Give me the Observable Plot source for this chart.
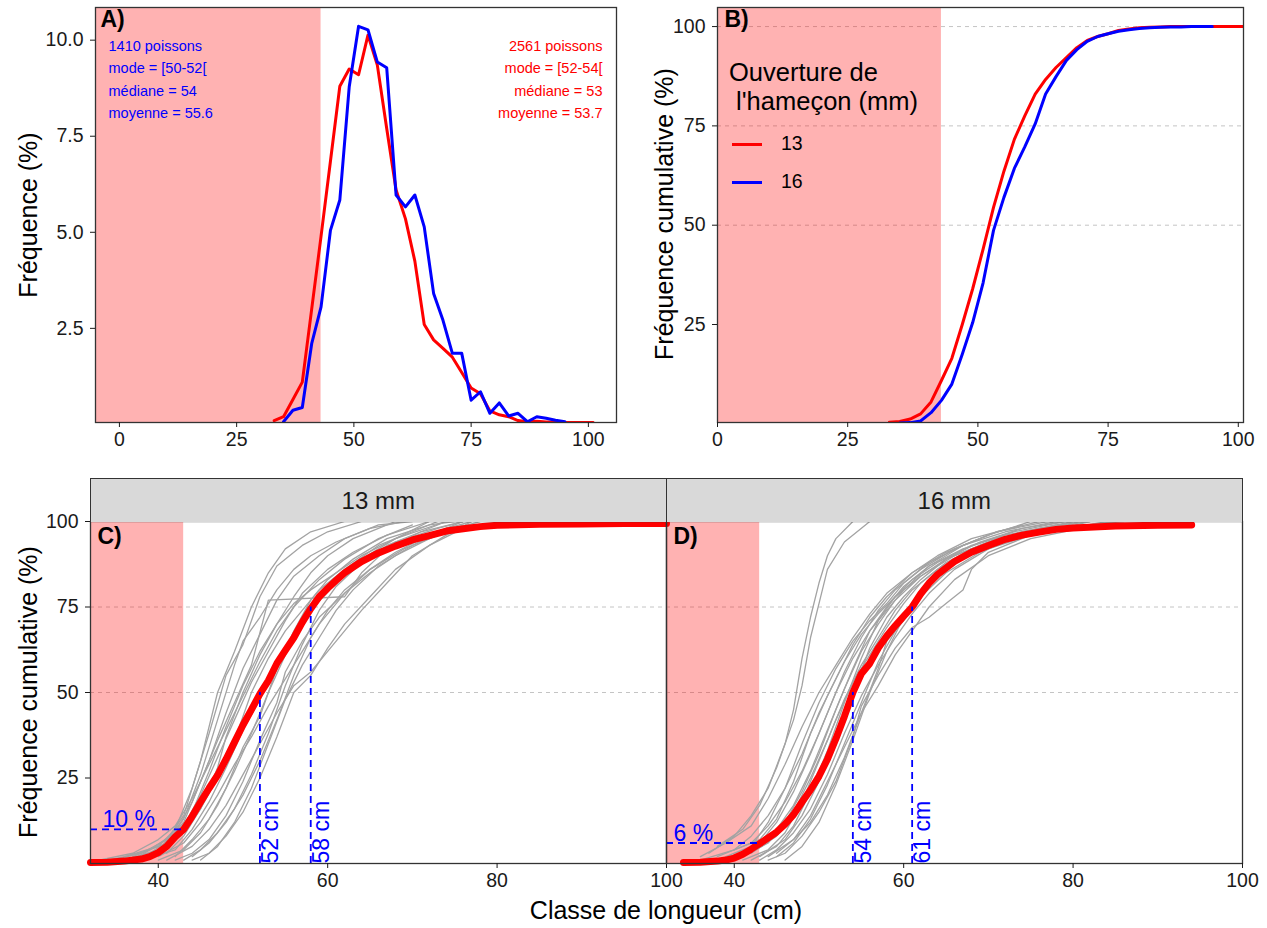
<!DOCTYPE html>
<html><head><meta charset="utf-8">
<script src="https://cdn.jsdelivr.net/npm/d3@7"></script>
<script src="https://cdn.jsdelivr.net/npm/@observablehq/plot@0.6"></script>
<style>
body{margin:0;background:#fff;font-family:"Liberation Sans",Arial,sans-serif;}
#root{position:relative;width:1267px;height:928px;overflow:hidden;background:#fff;}
.t{position:absolute;white-space:pre;line-height:1;color:#000;}
.strip{position:absolute;background:#d9d9d9;border:1.3px solid #333;border-bottom:none;box-sizing:border-box;font-size:24px;display:flex;align-items:center;justify-content:center;color:#1a1a1a;}
.key{position:absolute;height:3px;}
</style></head><body><div id="root"></div>
<script>
// ---------- DATA ----------
// Panel A : fréquence (%) par classe de 2 cm (centre de classe)
const classes13A = [33,35,37,39,41,43,45,47,49,51,53,55,57,59,61,63,65,67,69,71,73,75,77,79,81,83,85,87,89,91,93,95,97,99,101];
const freq13A = [0.1,0.2,0.65,1.1,3.0,4.9,6.85,8.8,9.25,9.1,10.13,9.35,7.7,6.1,5.35,4.25,2.6,2.2,1.98,1.75,1.35,0.95,0.8,0.35,0.25,0.2,0.1,0.07,0.08,0.06,0.06,0.05,0.05,0.05,0.05];
const classes16A = [35,37,39,41,43,45,47,49,51,53,55,57,59,61,63,65,67,69,71,73,75,77,79,81,83,85,87,89,91,93,95];
const freq16A = [0.07,0.37,0.44,2.1,3.06,5.05,5.84,8.78,10.36,10.27,9.43,9.28,5.97,5.66,5.97,5.14,3.41,2.71,1.85,1.85,0.63,0.85,0.29,0.56,0.22,0.29,0.07,0.2,0.16,0.11,0.07];
const statsBleu = ["1410 poissons","mode = [50-52[","médiane = 54","moyenne = 55.6"];
const statsRouge = ["2561 poissons","mode = [52-54[","médiane = 53","moyenne = 53.7"];

// Panel B : fréquence cumulée (%)
const cum13B = [0.4,0.6,1.2,2.5,5.5,10.9,16.5,25,34,44,54.5,63.6,71.6,77.5,83,86.7,89.7,92.2,94.7,96.5,97.5,98.2,99,99.4,99.7,99.8,99.9,100,100,100,100,100,100,100,100];
const cum16B = [0.2,0.3,0.7,2.8,5.9,10,17.5,25.5,35.5,48.7,57,64.3,69.7,75.5,83,87.4,91.5,94.2,96.3,97.5,98.2,98.8,99.2,99.5,99.7,99.8,99.9,99.9,100,100,100];

// Panels C et D : courbe moyenne
const moyC_x = [32,34,36,38,39,40,41,42,43,44,45,46,47,48,49,50,51,52,53,54,55,56,57,58,59,60,61,62,64,66,68,70,72,74,76,78,80,85,90,95,100];
const moyC_y = [0.3,0.4,0.7,1.3,2.0,3.2,5,7.8,10,13.8,18,22,25.8,30.5,35.5,40.5,45,49.6,53.5,58.5,62.3,66,70.5,74.5,78,80.5,82.8,85,88.3,90.8,92.8,94.6,95.9,97.2,97.9,98.5,98.9,99.2,99.3,99.4,99.4];
const moyD_x = [34,36,38,39,40,41,42,43,44,45,46,47,48,49,50,51,52,53,54,55,56,57,58,59,60,61,62,63,64,66,68,70,72,74,76,78,80,85,90,94];
const moyD_y = [0.3,0.4,0.7,1.0,1.6,2.7,4.2,5.8,7.5,9.2,11.5,14.3,18,21.5,25.5,30.5,36.5,43,50,55.5,58.5,63,66.5,69.5,72.3,75,78.8,82,84.5,88.3,91,93,94.8,96,96.9,97.7,98.1,98.7,98.9,99.0];

// Courbes individuelles (gris)
const grisC = [
 [[34,1],[38,3],[41,7],[43,14],[45,30],[47,50],[49,62],[51,75],[53,85],[55,92],[58,97],[62,100]],
 [[36,2],[40,5],[42,10],[44,22],[46,38],[48,55],[50,64],[52,78],[54,87],[57,93],[60,97],[64,100]],
 [[35,1],[39,4],[42,9],[44,18],[46,30],[48,44],[50,57],[52,67],[54,77],[56,84],[59,90],[62,95],[66,99],[70,100]],
 [[37,2],[41,6],[43,11],[45,20],[47,31],[49,42],[51,53],[53,62],[55,71],[57,79],[60,86],[63,91],[67,96],[72,100]],
 [[38,1],[42,4],[44,10],[46,18],[48,28],[50,39],[52,48],[54,58],[56,66],[58,74],[61,82],[64,89],[68,95],[74,100]],
 [[40,2],[43,6],[45,12],[47,20],[49,29],[51,37],[53,46],[55,54],[57,62],[59,70],[62,79],[65,86],[69,92],[75,98],[78,100]],
 [[41,1],[44,5],[46,10],[48,17],[50,26],[52,35],[54,44],[56,52],[58,56],[60,62],[62,68],[64,74],[67,82],[70,90],[74,96],[77,100]],
 [[43,1],[45,4],[47,9],[49,16],[51,26],[53,38],[55,52],[57,64],[59,74],[61,81],[64,88],[68,94],[73,98],[76,100]],
 [[42,2],[44,7],[46,13],[48,22],[50,34],[52,43],[54,57],[56,68],[58,77],[60,83],[63,89],[67,95],[72,99],[75,100]],
 [[39,3],[42,8],[44,15],[46,27],[48,40],[50,52],[52,62],[54,70],[56,76],[58,80],[61,85],[64,90],[68,95],[72,100]],
 [[36,1],[40,4],[43,12],[45,24],[47,36],[49,47],[51,58],[53,77],[62,78],[64,85],[67,92],[71,97],[74,100]],
 [[44,2],[46,6],[48,12],[50,20],[52,30],[54,42],[56,55],[58,66],[60,74],[62,80],[65,86],[68,91],[72,96],[76,100]],
 [[37,1],[41,7],[43,13],[45,26],[47,42],[49,58],[50,65],[52,72],[54,80],[56,86],[58,90],[61,94],[65,98],[69,100]],
 [[40,1],[43,4],[45,9],[47,17],[49,27],[51,38],[53,50],[55,61],[57,70],[59,77],[61,83],[64,88],[67,93],[71,97],[76,100]],
 [[45,1],[47,5],[49,12],[51,22],[53,35],[55,48],[57,58],[59,66],[61,74],[63,80],[66,87],[70,93],[74,98],[77,100]],
 [[38,2],[41,5],[43,9],[45,16],[47,25],[49,36],[51,50],[53,60],[55,68],[57,74],[59,80],[62,86],[66,93],[70,97],[73,100]],
 [[42,1],[44,3],[46,7],[48,14],[50,24],[52,36],[54,47],[55,56],[57,65],[59,72],[62,79],[65,85],[68,90],[72,95],[76,99]],
 [[33,1],[37,3],[40,7],[42,11],[44,19],[46,29],[48,39],[50,49],[52,59],[54,68],[56,75],[59,83],[62,89],[66,95],[70,99]],
 [[41,3],[43,8],[45,16],[47,28],[48,37],[50,50],[52,61],[54,70],[56,78],[58,85],[60,90],[63,95],[66,98],[68,100]],
 [[44,1],[46,3],[48,8],[50,15],[52,25],[54,37],[56,50],[58,55],[60,63],[62,70],[65,78],[68,86],[72,93],[76,98]]
];
const grisD = [
 [[37,3],[40,8],[42,14],[44,22],[46,35],[47,45],[48,60],[49,72],[50,82],[51,90],[52,95],[54,100]],
 [[38,5],[41,10],[43,17],[45,28],[47,42],[48,52],[49,66],[50,76],[51,86],[53,94],[56,100]],
 [[36,1],[40,4],[42,8],[44,14],[46,22],[48,32],[50,44],[52,54],[54,64],[56,72],[58,78],[61,85],[64,90],[68,95],[74,99]],
 [[38,2],[42,6],[44,11],[46,18],[48,27],[50,38],[52,50],[54,60],[56,68],[58,74],[60,80],[63,87],[67,93],[72,97],[78,100]],
 [[40,1],[43,5],[45,10],[47,17],[49,27],[51,39],[53,51],[55,62],[57,70],[59,77],[62,84],[65,89],[70,94],[76,98],[82,100]],
 [[41,2],[44,6],[46,12],[48,21],[50,32],[52,45],[54,57],[56,68],[58,75],[60,81],[63,87],[67,92],[72,96],[80,100]],
 [[43,1],[45,4],[47,9],[49,16],[51,26],[53,38],[55,49],[57,58],[59,66],[61,73],[63,79],[66,86],[70,92],[75,96],[84,100]],
 [[44,1],[46,3],[48,8],[50,15],[52,24],[54,37],[55,46],[57,55],[59,63],[61,69],[63,72],[65,76],[67,80],[68,86],[70,91],[75,96],[82,100]],
 [[39,2],[42,5],[44,12],[46,22],[48,35],[50,47],[52,57],[54,65],[56,71],[58,76],[60,82],[63,88],[67,93],[71,97],[76,100]],
 [[42,3],[45,8],[47,15],[49,25],[51,36],[53,48],[55,58],[57,66],[59,74],[61,80],[64,86],[68,92],[73,96],[80,99]],
 [[45,2],[47,6],[49,13],[51,23],[53,35],[55,47],[57,59],[59,68],[61,76],[63,82],[66,88],[70,93],[76,97],[85,100]],
 [[40,4],[43,7],[45,13],[47,24],[49,38],[51,49],[53,59],[55,67],[57,73],[59,78],[62,84],[66,90],[71,95],[78,99]],
 [[36,2],[39,6],[42,11],[44,19],[46,29],[48,40],[50,50],[52,58],[54,66],[56,73],[58,79],[61,85],[65,91],[70,96],[75,100]],
 [[43,2],[46,7],[48,14],[50,24],[52,36],[54,50],[56,63],[58,72],[60,78],[62,83],[65,89],[69,94],[74,98],[79,100]],
 [[41,1],[44,4],[46,9],[48,18],[50,30],[52,42],[54,53],[56,61],[58,69],[60,76],[62,82],[65,88],[69,93],[74,97],[81,100]],
 [[44,2],[47,7],[49,14],[51,24],[53,34],[55,44],[57,52],[59,61],[61,68],[63,75],[66,83],[70,90],[75,95],[83,99]],
 [[38,1],[41,3],[43,6],[45,12],[47,21],[49,32],[51,44],[53,56],[55,66],[57,74],[59,80],[62,86],[66,92],[71,97],[77,100]],
 [[42,1],[45,5],[47,11],[49,21],[51,33],[53,47],[55,60],[57,71],[59,78],[61,83],[64,88],[68,93],[73,97],[79,100]],
 [[46,1],[48,5],[50,12],[52,23],[54,36],[56,50],[58,62],[60,72],[62,79],[64,85],[67,90],[71,95],[77,98],[86,100]],
 [[45,3],[47,7],[49,12],[51,20],[53,31],[55,44],[57,57],[58,65],[60,71],[62,78],[65,85],[69,91],[74,96],[80,100]]
];

// Annotations C / D
const limiteTaille = 43;
const seuilC = [{pct:10}];
const quantC = [{cm:52, pct:50},{cm:58, pct:75}];
const seuilD = [{pct:6}];
const quantD = [{cm:54, pct:50},{cm:61, pct:75}];

const ticksA_x = [0,25,50,75,100], ticksA_y = [2.5,5,7.5,10];
const ticksB_x = [0,25,50,75,100], ticksB_y = [25,50,75,100];
const ticksCD_x = [40,60,80,100], ticksCD_y = [25,50,75,100];
const gridY = [50,75,100];

// ---------- HELPERS ----------
const root = document.getElementById("root");
const FONT = "Liberation Sans, Arial, sans-serif";
function put(node, left, top){ node.style.position="absolute"; node.style.left=left+"px"; node.style.top=top+"px"; root.appendChild(node); }
function txt(s, x, y, size, opt={}){
  const d=document.createElement("div"); d.className="t"; d.textContent=s;
  d.style.fontSize=size+"px"; d.style.left=x+"px"; d.style.top=y+"px";
  let tr = opt.center ? "translate(-50%,-50%)" : "translate(0,-50%)";
  if(opt.rot) tr += " rotate(-90deg)";
  d.style.transform=tr;
  if(opt.color) d.style.color=opt.color;
  root.appendChild(d); return d;
}
const st = {background:"transparent", overflow:"visible", fontFamily:FONT, color:"#1a1a1a"};
const axX = (ticks, extra={}) => Plot.axisX({ticks, tickSize:5, tickPadding:5, fontSize:19.5, label:null, ...extra});
const axY = (ticks, extra={}) => Plot.axisY({ticks, tickSize:5, tickPadding:7, fontSize:19.5, label:null, ...extra});
const col = {domain:["13","16"], range:["#ff0000","#0000ff"]};

// ---------- PANEL A ----------
const domA_x = [-5.1, 106];
const tabA = [
  ...classes13A.map((x,i)=>({x, y:freq13A[i], s:"13"})),
  ...classes16A.map((x,i)=>({x, y:freq16A[i], s:"16"}))
];
const pA = Plot.plot({
  width:630, height:460, marginLeft:95, marginRight:14, marginTop:7, marginBottom:38,
  style: st,
  x:{domain:domA_x}, y:{domain:[0.05,10.85]}, color: col,
  marks:[
    Plot.rect([{a:domA_x[0], b:limiteTaille}], {x1:"a", x2:"b", fill:"#ff0000", fillOpacity:0.3}),
    Plot.line(tabA, {x:"x", y:"y", z:"s", stroke:"s", strokeWidth:3, clip:true}),
    Plot.text([statsBleu.join("\n")], {text:d=>d, frameAnchor:"top-left", dx:13, dy:27.5, fill:"#0000ff", fontSize:14.5, lineHeight:1.55}),
    Plot.text([statsRouge.join("\n")], {text:d=>d, frameAnchor:"top-right", dx:-14, dy:27.5, fill:"#ff0000", fontSize:14.5, lineHeight:1.55}),
    Plot.text(["A)"], {text:d=>d, frameAnchor:"top-left", dx:5, dy:3, fontSize:23, fontWeight:"bold", fill:"#000"}),
    Plot.frame({stroke:"#333", strokeWidth:1.3}),
    axX(ticksA_x), axY(ticksA_y, {tickFormat:d=>d.toFixed(1)})
  ]
});
put(pA, 0, 0);

// ---------- PANEL B ----------
const tabB = [
  ...classes13A.map((x,i)=>({x, y:cum13B[i], s:"13"})),
  ...classes16A.map((x,i)=>({x, y:cum16B[i], s:"16"}))
];
const domB_x = [0, 101];
const pB = Plot.plot({
  width:637, height:460, marginLeft:87, marginRight:24, marginTop:7, marginBottom:38,
  style: st,
  x:{domain:domB_x}, y:{domain:[0.33,104.8]}, color: col,
  marks:[
    Plot.gridY(gridY, {stroke:"#c4c4c4", strokeOpacity:1, strokeDasharray:"4,4", strokeWidth:1}),
    Plot.rect([{a:domB_x[0], b:limiteTaille}], {x1:"a", x2:"b", fill:"#ff0000", fillOpacity:0.3}),
    Plot.line(tabB, {x:"x", y:"y", z:"s", stroke:"s", strokeWidth:3, clip:true}),
    Plot.text(["B)"], {text:d=>d, frameAnchor:"top-left", dx:7, dy:3, fontSize:23, fontWeight:"bold", fill:"#000"}),
    Plot.frame({stroke:"#333", strokeWidth:1.3}),
    axX(ticksB_x), axY(ticksB_y)
  ]
});
put(pB, 630, 0);

// ---------- PANELS C & D ----------
const domCD_x = [32, 100];
function panelCD(gris, mx, my, seuil, quant, letter, showY, w, ml, mr){
  const tg = gris.flatMap((c,i)=>c.map(([x,y])=>({x,y,id:i})));
  const tm = mx.map((x,i)=>({x, y:my[i]}));
  const hr = seuil.map(d=>({y:d.pct, x1:domCD_x[0], x2:limiteTaille, lab:d.pct+" %"}));
  const vr = quant.map(d=>({x:d.cm, y1:0, y2:d.pct, lab:d.cm+" cm"}));
  const marks = [
      Plot.gridY(gridY, {stroke:"#c4c4c4", strokeOpacity:1, strokeDasharray:"4,4", strokeWidth:1}),
      Plot.rect([{a:domCD_x[0], b:limiteTaille}], {x1:"a", x2:"b", fill:"#ff0000", fillOpacity:0.3}),
      Plot.line(tg, {x:"x", y:"y", z:"id", stroke:"#a3a3a3", strokeWidth:1.3, clip:true}),
      Plot.line(tm, {x:"x", y:"y", stroke:"#ff0000", strokeWidth:7}),
      Plot.ruleY(hr, {y:"y", x1:"x1", x2:"x2", stroke:"#0000ff", strokeWidth:1.8, strokeDasharray:"7,5"}),
      Plot.ruleX(vr, {x:"x", y1:"y1", y2:"y2", stroke:"#0000ff", strokeWidth:1.8, strokeDasharray:"7,5"}),
      Plot.text(hr, {x:"x1", y:"y", text:"lab", textAnchor:"start", lineAnchor:"bottom", dx: letter==="C)"?12:7, dy:-2, fill:"#0000ff", fontSize:23}),
      Plot.text(vr, {x:"x", y:"y1", text:"lab", rotate:-90, textAnchor:"start", lineAnchor:"top", dx:2, dy:0, fill:"#0000ff", fontSize:23}),
      Plot.text([letter], {text:d=>d, frameAnchor:"top-left", dx:7, dy:6, fontSize:23, fontWeight:"bold", fill:"#000"}),
      Plot.frame({stroke:"#333", strokeWidth:1.3}),
      axX(ticksCD_x)
  ];
  if (showY) marks.push(axY(ticksCD_y));
  return Plot.plot({
    width:w, height:458, marginLeft:ml, marginRight:mr, marginTop:51, marginBottom:65,
    style: st,
    x:{domain:domCD_x}, y:{domain:[0,100], axis: showY ? undefined : null},
    marks
  });
}
const pC = panelCD(grisC, moyC_x, moyC_y, seuilC, quantC, "C)", true, 668, 90, 2);
put(pC, 0, 470);
const pD = panelCD(grisD, moyD_x, moyD_y, seuilD, quantD, "D)", false, 627, 26, 25);
put(pD, 640, 470);

// strips
for (const [lab, left] of [["13 mm", 90], ["16 mm", 666]]) {
  const s=document.createElement("div"); s.className="strip"; s.textContent=lab;
  s.style.left=left+"px"; s.style.top="478px"; s.style.width="576.5px"; s.style.height="44px";
  root.appendChild(s);
}

// axis titles
txt("Fréquence (%)", 28, 215, 25, {center:true, rot:true});
txt("Fréquence cumulative (%)", 664, 214, 25, {center:true, rot:true});
txt("Fréquence cumulative (%)", 28, 692, 25, {center:true, rot:true});
txt("Classe de longueur (cm)", 666, 910, 25, {center:true});

// legend (panel B)
txt("Ouverture de", 729, 73, 25.5);
txt(" l'hameçon (mm)", 729, 102, 25.5);
const legend = [["13","#ff0000",144],["16","#0000ff",182]];
for (const [lab,c,y] of legend){
  const k=document.createElement("div"); k.className="key"; k.style.background=c;
  k.style.left="732px"; k.style.top=(y-1.5)+"px"; k.style.width="30px"; root.appendChild(k);
  txt(lab, 781, y, 19.5);
}
</script></body></html>
